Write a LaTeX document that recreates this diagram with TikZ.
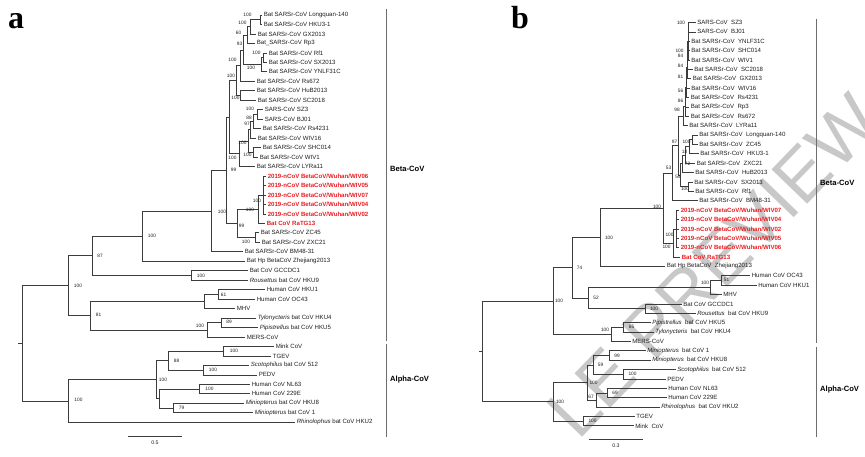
\documentclass[tikz,border=0pt]{standalone}
\usepackage{fontspec}
\setmainfont{Liberation Sans}
\newfontfamily\serifb{Liberation Serif}
\definecolor{lc}{RGB}{60,60,60}
\definecolor{tc}{RGB}{30,30,30}
\definecolor{nred}{RGB}{235,30,35}
\definecolor{bkc}{RGB}{110,110,110}
\definecolor{wmc}{RGB}{200,200,200}
\newcommand\setY[2]{\expandafter\xdef\csname tyY#1\endcsname{#2}}
\newcommand\getY[1]{\csname tyY#1\endcsname}
\tikzset{
  br/.style={draw=lc, line width=0.7pt},
  lf/.style={anchor=west, inner sep=0pt, xshift=1.6pt, text=tc, font=\fontsize{6.1}{7}\selectfont},
  lfr/.style={lf, text=nred, font=\fontsize{6.1}{7}\selectfont\bfseries},
  bs/.style={inner sep=0pt, text=tc, font=\fontsize{4.8}{5}\selectfont},
  clade/.style={draw=bkc, line width=0.9pt},
  cladetxt/.style={anchor=west, inner sep=0pt, font=\fontsize{7.6}{8}\selectfont\bfseries},
  panel/.style={anchor=base west, inner sep=0pt, font=\serifb\bfseries\fontsize{32}{32}\selectfont},
  scl/.style={draw=lc, line width=0.7pt},
  wmark/.style={inner sep=0pt, text=wmc, anchor=base west, font=\fontsize{72}{72}\selectfont}
}
% leaves of panel a / b
\newcommand\lfa[4]{\pgfmathsetmacro\tmpy{15+(#3-1)*9.47}\setY{#1}{\tmpy}\coordinate (#1) at (#2,\tmpy);\node[lf] (#1t) at (#1) {#4};}
\newcommand\lfar[4]{\pgfmathsetmacro\tmpy{15+(#3-1)*9.47}\setY{#1}{\tmpy}\coordinate (#1) at (#2,\tmpy);\node[lfr] (#1t) at (#1) {#4};}
\newcommand\lfb[4]{\pgfmathsetmacro\tmpy{22.5+(#3-1)*9.38}\setY{#1}{\tmpy}\coordinate (#1) at (#2,\tmpy);\node[lf] (#1t) at (#1) {#4};}
\newcommand\lfbr[4]{\pgfmathsetmacro\tmpy{22.5+(#3-1)*9.38}\setY{#1}{\tmpy}\coordinate (#1) at (#2,\tmpy);\node[lfr] (#1t) at (#1) {#4};}
% internal node: name, x, child1, child2
\newcommand\nd[4]{\pgfmathsetmacro\tmpy{(\getY{#3}+\getY{#4})/2}\setY{#1}{\tmpy}\coordinate (#1) at (#2,\tmpy);\draw[br] (#1) |- (#3);\draw[br] (#1) |- (#4);}
\newcommand\bsv[4]{\node[bs] (#1) at (#2,#3) {#4};}
\begin{document}
\begin{tikzpicture}[x=1pt,y=-1pt]
\fill[white] (0,0) rectangle (865,457);
\useasboundingbox (0,0) rectangle (865,457);

% watermark: only the end of the diagonal word falls inside the frame
\begin{scope}
\clip (0,0) rectangle (865,457);
\begin{scope}[shift={(578.4,441.5)}, rotate=46, transform shape]
\node[wmark] (wm1) at (0,0) {L};
\node[wmark] (wm2) at (40,0) {E};
\node[wmark] (wm3) at (108.1,0) {P};
\node[wmark] (wm4) at (156.1,0) {R};
\node[wmark] (wm5) at (208.1,0) {E};
\node[wmark] (wm6) at (256.1,0) {V};
\node[wmark] (wm7) at (304.1,0) {I};
\node[wmark] (wm8) at (324.1,0) {E};
\node[wmark] (wm9) at (372.2,0) {W};
\end{scope}
\end{scope}

% ================= PANEL A =================
\node[panel] (pa) at (8,29) {a};
\lfa{a1}{262}{1}{Bat SARSr-CoV Longquan-140}
\lfa{a2}{262}{2}{Bat SARSr-CoV HKU3-1}
\lfa{a3}{256}{3}{Bat SARSr-CoV GX2013}
\lfa{a4}{255}{4}{Bat\_SARSr-CoV Rp3}
\lfa{a5}{267}{5}{Bat SARSr-CoV Rf1}
\lfa{a6}{267}{6}{Bat SARSr-CoV SX2013}
\lfa{a7}{267}{7}{Bat SARSr-CoV YNLF31C}
\lfa{a8}{255}{8}{Bat SARSr-CoV Rs672}
\lfa{a9}{255}{9}{Bat SARSr-CoV HuB2013}
\lfa{a10}{256}{10}{Bat SARSr-CoV SC2018}
\lfa{a11}{263}{11}{SARS-CoV SZ3}
\lfa{a12}{263}{12}{SARS-CoV BJ01}
\lfa{a13}{261}{13}{Bat SARSr-CoV Rs4231}
\lfa{a14}{256}{14}{Bat SARSr-CoV WIV16}
\lfa{a15}{261}{15}{Bat SARSr-CoV SHC014}
\lfa{a16}{258}{16}{Bat SARSr-CoV WIV1}
\lfa{a17}{255}{17}{Bat SARSr-CoV LYRa11}
\lfar{a18}{266}{18}{2019-nCoV BetaCoV/Wuhan/WIV06}
\lfar{a19}{266}{19}{2019-nCoV BetaCoV/Wuhan/WIV05}
\lfar{a20}{266}{20}{2019-nCoV BetaCoV/Wuhan/WIV07}
\lfar{a21}{266}{21}{2019-nCoV BetaCoV/Wuhan/WIV04}
\lfar{a22}{266}{22}{2019-nCoV BetaCoV/Wuhan/WIV02}
\lfar{a23}{265}{23}{Bat CoV RaTG13}
\lfa{a24}{259}{24}{Bat SARSr-CoV ZC45}
\lfa{a25}{260}{25}{Bat SARSr-CoV ZXC21}
\lfa{a26}{243}{26}{Bat SARSr-CoV BM48-31}
\lfa{a27}{245}{27}{Bat Hp BetaCoV Zhejiang2013}
\lfa{a28}{248}{28}{Bat CoV GCCDC1}
\lfa{a29}{248}{29}{\textit{Rousettus} bat CoV HKU9}
\lfa{a30}{265}{30}{Human CoV HKU1}
\lfa{a31}{255}{31}{Human CoV OC43}
\lfa{a32}{235}{32}{MHV}
\lfa{a33}{256}{33}{\textit{Tylonycteris} bat CoV HKU4}
\lfa{a34}{258}{34}{\textit{Pipistrellus} bat CoV HKU5}
\lfa{a35}{245}{35}{MERS-CoV}
\lfa{a36}{274}{36}{Mink CoV}
\lfa{a37}{271}{37}{TGEV}
\lfa{a38}{249}{38}{\textit{Scotophilus} bat CoV 512}
\lfa{a39}{257}{39}{PEDV}
\lfa{a40}{250}{40}{Human CoV NL63}
\lfa{a41}{250}{41}{Human CoV 229E}
\lfa{a42}{244}{42}{\textit{Miniopterus} bat CoV HKU8}
\lfa{a43}{253}{43}{\textit{Miniopterus} bat CoV 1}
\lfa{a44}{295}{44}{\textit{Rhinolophus} bat CoV HKU2}

\nd{A1}{260}{a1}{a2}
\nd{A2}{250}{A1}{a3}
\nd{A3}{247}{A2}{a4}
\nd{A4}{263}{a5}{a6}
\nd{A5}{261}{A4}{a7}
\nd{A6}{243}{A3}{A5}
\nd{A7}{240}{A6}{a8}
\nd{B1}{240}{a9}{a10}
\nd{AB}{236}{A7}{B1}
\nd{C1}{257}{a11}{a12}
\nd{C2}{253}{C1}{a13}
\nd{C3}{250}{C2}{a14}
\nd{C4}{253}{a15}{a16}
\nd{C5}{248}{C3}{C4}
\nd{CL}{239.5}{C5}{a17}
\nd{S}{229}{AB}{CL}
\nd{NW}{263}{a18}{a22}
\draw[br] (NW) |- (a19); \draw[br] (NW) |- (a20); \draw[br] (NW) |- (a21);
\nd{NC}{258}{NW}{a23}
\nd{NZ}{255}{a24}{a25}
\nd{N237}{237}{NC}{NZ}
\nd{N226}{226}{S}{N237}
\nd{N211}{211}{N226}{a26}
\nd{NZh}{142}{N211}{a27}
\nd{NG}{191}{a28}{a29}
\nd{N87}{92}{NZh}{NG}
\nd{NH}{218}{a30}{a31}
\nd{NM}{204}{NH}{a32}
\nd{NT}{221}{a33}{a34}
\nd{NMe}{207}{NT}{a35}
\nd{N81}{90}{NM}{NMe}
\nd{BetaA}{68}{N87}{N81}
\nd{M1}{223}{a36}{a37}
\nd{M2}{203}{a38}{a39}
\nd{M88}{168}{M1}{M2}
\nd{H1}{199}{a40}{a41}
\nd{H2}{173}{a42}{a43}
\nd{H3}{159}{H1}{H2}
\nd{M100}{156}{M88}{H3}
\nd{AlphaA}{68}{M100}{a44}
\nd{RootA}{22}{BetaA}{AlphaA}
\coordinate (RootAs) at (18,\getY{RootA});
\draw[br] (RootAs) -- (RootA);

\bsv{sA1}{247.5}{15}{100}
\bsv{sA2}{242.5}{23}{100}
\bsv{sA3}{238.5}{33}{60}
\bsv{sA6}{239.5}{44}{93}
\bsv{sA4}{256.5}{53}{100}
\bsv{sA5}{251}{68}{100}
\bsv{sA7}{232.5}{60}{100}
\bsv{sAB}{231}{76}{100}
\bsv{sB1}{235.5}{98}{100}
\bsv{sC1}{250}{109}{100}
\bsv{sC2}{249}{118}{88}
\bsv{sC3}{247}{124}{97}
\bsv{sC5}{242.5}{143}{100}
\bsv{sC4}{247.5}{155}{100}
\bsv{sCL}{232.5}{158}{100}
\bsv{sN226}{233.5}{170}{99}
\bsv{sNW}{257}{201}{100}
\bsv{sNC}{250}{210}{100}
\bsv{sN237}{241.5}{226}{99}
\bsv{sNZ}{246}{241.5}{100}
\bsv{sN211}{222}{212}{100}
\bsv{sNZh}{152}{236}{100}
\bsv{sN87}{100}{256}{87}
\bsv{sNG}{201}{276}{100}
\bsv{sBetaA}{78}{286}{100}
\bsv{sNH}{223.5}{295}{61}
\bsv{sN81}{98.5}{315}{81}
\bsv{sNMe}{200}{326}{100}
\bsv{sNT}{229}{322}{89}
\bsv{sM1}{234}{351}{100}
\bsv{sM2}{213}{370}{100}
\bsv{sM88}{176.5}{361}{88}
\bsv{sM100}{163}{380}{100}
\bsv{sH1}{209.5}{389}{100}
\bsv{sH2}{181.5}{408}{79}
\bsv{sAlphaA}{78.5}{400}{100}

% scale bar a
\coordinate (sa1) at (128,436); \coordinate (sa2) at (182,436);
\draw[scl] (sa1) -- (sa2);
\node[bs, font=\fontsize{5.2}{6}\selectfont] (sat) at (155,443) {0.5};

% clade brackets a
\coordinate (cab1) at (386,9); \coordinate (cab2) at (386,341);
\coordinate (caa1) at (386,344); \coordinate (caa2) at (386,437);
\draw[clade] (cab1) -- (cab2);
\draw[clade] (caa1) -- (caa2);
\node[cladetxt] (cabt) at (390,169) {Beta-CoV};
\node[cladetxt] (caat) at (390,380) {Alpha-CoV};

% ================= PANEL B =================
\node[panel] (pb) at (511,29) {b};
\lfb{b1}{695.5}{1}{SARS-CoV~~SZ3}
\lfb{b2}{695.5}{2}{SARS-CoV~~BJ01}
\lfb{b3}{689.5}{3}{Bat SARSr-CoV~~YNLF31C}
\lfb{b4}{689.5}{4}{Bat SARSr-CoV~~SHC014}
\lfb{b5}{689.5}{5}{Bat SARSr-CoV~~WIV1}
\lfb{b6}{692.5}{6}{Bat SARSr-CoV~~SC2018}
\lfb{b7}{691}{7}{Bat SARSr-CoV~~GX2013}
\lfb{b8}{689.5}{8}{Bat SARSr-CoV~~WIV16}
\lfb{b9}{689}{9}{Bat SARSr-CoV~~Rs4231}
\lfb{b10}{689}{10}{Bat SARSr-CoV~~Rp3}
\lfb{b11}{689}{11}{Bat SARSr-CoV~~Rs672}
\lfb{b12}{687.5}{12}{Bat SARSr-CoV~~LYRa11}
\lfb{b13}{697.5}{13}{Bat SARSr-CoV~~Longquan-140}
\lfb{b14}{697.5}{14}{Bat SARSr-CoV~~ZC45}
\lfb{b15}{698.5}{15}{Bat SARSr-CoV~~HKU3-1}
\lfb{b16}{695}{16}{Bat SARSr-CoV~~ZXC21}
\lfb{b17}{693.5}{17}{Bat SARSr-CoV~~HuB2013}
\lfb{b18}{692.5}{18}{Bat SARSr-CoV~~SX2013}
\lfb{b19}{693.5}{19}{Bat SARSr-CoV~~Rf1}
\lfb{b20}{697.5}{20}{Bat SARSr-CoV~~BM48-31}
\lfbr{b21}{679}{21}{2019-nCoV BetaCoV/Wuhan/WIV07}
\lfbr{b22}{679}{22}{2019-nCoV BetaCoV/Wuhan/WIV04}
\lfbr{b23}{679}{23}{2019-nCoV BetaCoV/Wuhan/WIV02}
\lfbr{b24}{679}{24}{2019-nCoV BetaCoV/Wuhan/WIV05}
\lfbr{b25}{679}{25}{2019-nCoV BetaCoV/Wuhan/WIV06}
\lfbr{b26}{680}{26}{Bat CoV RaTG13}
\lfb{b27}{665}{27}{Bat Hp BetaCoV~~Zhejiang2013}
\lfb{b28}{750}{28}{Human CoV OC43}
\lfb{b29}{756.5}{29}{Human CoV HKU1}
\lfb{b30}{721.5}{30}{MHV}
\lfb{b31}{681.5}{31}{Bat CoV GCCDC1}
\lfb{b32}{695.5}{32}{\textit{Rousettus}~~bat CoV HKU9}
\lfb{b33}{650.5}{33}{\textit{Pipistrellus}~~bat CoV HKU5}
\lfb{b34}{653.5}{34}{\textit{Tylonycteris}~~bat CoV HKU4}
\lfb{b35}{630.5}{35}{MERS-CoV}
\lfb{b36}{645.5}{36}{\textit{Miniopterus}~~bat CoV 1}
\lfb{b37}{650.5}{37}{\textit{Miniopterus}~~bat CoV HKU8}
\lfb{b38}{675.5}{38}{\textit{Scotophilus}~~bat CoV 512}
\lfb{b39}{665.5}{39}{PEDV}
\lfb{b40}{666.5}{40}{Human CoV NL63}
\lfb{b41}{666.5}{41}{Human CoV 229E}
\lfb{b42}{659.5}{42}{\textit{Rhinolophus}~~bat CoV HKU2}
\lfb{b43}{634.5}{43}{TGEV}
\lfb{b44}{633.5}{44}{Mink~~CoV}

\nd{n1}{688.5}{b1}{b2}
\nd{n2}{688.5}{b4}{b5}
\nd{n3}{688}{n1}{n2}
\draw[br] (n3) |- (b3);
\nd{n4}{687.4}{n3}{b6}
\nd{n5}{687}{n4}{b7}
\nd{n6}{686.5}{n5}{b8}
\nd{n7}{686}{n6}{b9}
\nd{n8}{685.5}{n7}{b10}
\nd{n9}{685}{n8}{b11}
\nd{p98}{683}{n9}{b12}
\nd{pI}{692}{b13}{b14}
\nd{pJ}{689}{pI}{b15}
\nd{pK}{685}{pJ}{b16}
\nd{pM}{682}{pK}{b17}
\nd{pSR}{688}{b18}{b19}
\nd{pL}{680}{pM}{pSR}
\nd{p97}{678}{p98}{pL}
\nd{p53}{672.5}{p97}{b20}
\nd{pW}{676.5}{b21}{b25}
\draw[br] (pW) |- (b22); \draw[br] (pW) |- (b23); \draw[br] (pW) |- (b24);
\nd{pR}{673}{pW}{b26}
\nd{pB}{663}{p53}{pR}
\nd{pZ}{600}{pB}{b27}
\nd{pO}{721}{b28}{b29}
\nd{pMH}{710}{pO}{b30}
\nd{pG}{645}{b31}{b32}
\nd{p52}{588}{pMH}{pG}
\nd{p74}{572}{pZ}{p52}
\nd{pP}{623}{b33}{b34}
\nd{pME}{611}{pP}{b35}
\nd{BetaB}{553}{p74}{pME}
\nd{qMi}{609}{b36}{b37}
\nd{qSc}{623}{b38}{b39}
\nd{q59}{593}{qMi}{qSc}
\nd{qNL}{607}{b40}{b41}
\nd{q67}{596}{qNL}{b42}
\nd{q100}{587}{q59}{q67}
\nd{qTG}{583}{b43}{b44}
\nd{AlphaB}{553}{q100}{qTG}
\nd{RootB}{482}{BetaB}{AlphaB}
\coordinate (RootBs) at (479,\getY{RootB});
\draw[br] (RootBs) -- (RootB);

\bsv{sn1}{681}{22.7}{100}
\bsv{sn2}{679.5}{50.7}{100}
\bsv{sn3}{680.5}{56}{84}
\bsv{sn4}{680.5}{65.7}{84}
\bsv{sn5}{680.5}{77.3}{81}
\bsv{sn6}{680.5}{90.7}{56}
\bsv{sn7}{680.5}{101}{86}
\bsv{sp98}{677}{110}{98}
\bsv{sp97}{674.5}{142}{97}
\bsv{spI}{686.5}{142}{100}
\bsv{spJ}{684.5}{151.7}{18}
\bsv{spK}{687.5}{164.3}{72}
\bsv{sp53}{668.5}{168}{53}
\bsv{spL}{678}{176.7}{54}
\bsv{spSR}{685}{189}{100}
\bsv{spB}{657}{207}{100}
\bsv{spW}{669.5}{235}{100}
\bsv{spR}{666.5}{246.7}{100}
\bsv{spZ}{609}{238}{100}
\bsv{sp74}{579.5}{268}{74}
\bsv{sp52}{596}{298}{52}
\bsv{spMH}{705}{283}{100}
\bsv{spO}{726.5}{280}{51}
\bsv{spG}{654}{309}{100}
\bsv{sBetaB}{559}{300.7}{100}
\bsv{spP}{631.5}{327}{65}
\bsv{spME}{605}{330}{100}
\bsv{sqMi}{617}{356}{99}
\bsv{sqSc}{632.5}{374}{100}
\bsv{sq59}{600.5}{365}{59}
\bsv{sqNL}{615}{393}{69}
\bsv{sq67}{591}{397}{67}
\bsv{sq100}{593.5}{383}{100}
\bsv{sqTG}{592.5}{421}{100}
\bsv{sAlphaB}{560}{401.7}{100}

% scale bar b
\coordinate (sb1) at (589,439); \coordinate (sb2) at (643,439);
\draw[scl] (sb1) -- (sb2);
\node[bs, font=\fontsize{5.2}{6}\selectfont] (sbt) at (616,446) {0.3};

% clade brackets b
\coordinate (cbb1) at (816,19); \coordinate (cbb2) at (816,343);
\coordinate (cba1) at (816,347); \coordinate (cba2) at (816,437);
\draw[clade] (cbb1) -- (cbb2);
\draw[clade] (cba1) -- (cba2);
\node[cladetxt] (cbbt) at (820,183) {Beta-CoV};
\node[cladetxt] (cbat) at (820,390) {Alpha-CoV};
\end{tikzpicture}
\end{document}
